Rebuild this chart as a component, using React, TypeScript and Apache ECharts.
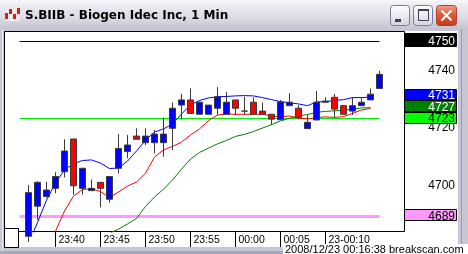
import React, { useEffect, useRef } from 'react';
import * as echarts from 'echarts';

// ---------- data ----------
const times = [
  '23:35', '23:36', '23:37', '23:38', '23:39', '23:40', '23:41', '23:42', '23:43', '23:44',
  '23:45', '23:46', '23:47', '23:48', '23:49', '23:50', '23:51', '23:52', '23:53', '23:54',
  '23:55', '23:56', '23:57', '23:58', '23:59', '00:00', '00:01', '00:02', '00:03', '00:04',
  '00:05', '00:06', '00:07', '00:08', '00:09', '00:10', '00:11', '00:12', '00:13', '00:14',
  '00:15', '00:16', '00:17', '00:18',
];
const candleStart = '23:37';

const opens = [
  4682.0, 4692.5, 4695.8, 4698.7, 4704.5, 4715.9, 4698.7, 4697.9, 4700.8, 4694.9,
  4705.7, 4711.5, 4716.9, 4714.6, 4714.6, 4714.6, 4719.6, 4727.7, 4729.5, 4724.5,
  4724.5, 4726.6, 4724.5, 4729.5, 4725.6, 4728.7, 4725.6, 4724.5, 4722.6, 4727.5,
  4726.6, 4719.5, 4722.5, 4728.7, 4730.4, 4727.5, 4725.6, 4727.5, 4729.5, 4733.5,
];
const closes = [
  4697.2, 4700.8, 4698.1, 4702.8, 4711.7, 4699.6, 4705.7, 4698.7, 4698.7, 4702.8,
  4712.6, 4713.8, 4715.8, 4716.9, 4717.6, 4717.6, 4726.6, 4729.5, 4724.8, 4728.7,
  4727.7, 4730.6, 4728.7, 4726.6, 4725.6, 4724.5, 4724.5, 4722.8, 4728.8, 4728.7,
  4723.4, 4721.7, 4728.7, 4729.1, 4726.3, 4724.5, 4727.5, 4728.7, 4731.5, 4738.4,
];
const lows = [
  4680.0, 4687.7, 4695.6, 4697.0, 4702.5, 4696.5, 4696.5, 4697.9, 4692.1, 4693.7,
  4703.9, 4709.2, 4715.8, 4713.8, 4710.9, 4709.7, 4712.0, 4722.7, 4724.8, 4724.5,
  4724.5, 4724.2, 4724.5, 4724.2, 4724.4, 4724.5, 4724.5, 4720.8, 4722.6, 4727.5,
  4722.7, 4719.5, 4722.5, 4728.7, 4723.4, 4724.5, 4724.2, 4727.5, 4729.5, 4733.5,
];
const highs = [
  4699.9, 4701.2, 4701.0, 4704.3, 4715.8, 4715.9, 4705.7, 4701.8, 4700.8, 4702.8,
  4717.6, 4717.3, 4719.6, 4719.6, 4719.0, 4723.4, 4728.6, 4731.6, 4733.5, 4728.9,
  4727.7, 4734.0, 4732.3, 4729.5, 4730.6, 4730.4, 4728.6, 4724.5, 4729.5, 4731.8,
  4727.7, 4724.2, 4732.6, 4730.4, 4731.6, 4727.5, 4730.4, 4730.4, 4733.5, 4739.6,
];

const maFast = [
  4679.5, 4686.8, 4694.6, 4700.6, 4705.1, 4707.3, 4708.4, 4708.6, 4707.5, 4705.6,
  4705.8, 4708.2, 4711.7, 4715.5, 4718.3, 4719.4, 4721.1, 4724.6, 4727.7, 4729.3,
  4730.2, 4730.6, 4730.7, 4730.9, 4731.0, 4730.9, 4730.3, 4729.6, 4728.9, 4728.5,
  4728.1, 4727.5, 4728.8, 4728.9, 4729.3, 4729.6, 4730.3, 4730.3, 4730.5, null,
];
const maMid = [
  null, null, 4677.2, 4683.8, 4690.8, 4696.0, 4698.3, 4698.6, 4697.6, 4695.5,
  4697.4, 4699.5, 4700.9, 4704.0, 4709.6, 4712.1, 4713.3, 4714.8, 4717.3, 4719.4,
  4722.3, 4724.2, 4724.6, 4724.5, 4724.5, 4724.5, 4724.5, 4723.9, 4723.6, 4723.9,
  4723.1, 4722.9, 4723.3, 4723.6, 4723.4, 4723.7, 4724.8, 4726.0, 4726.5, null,
];
const maSlow = [
  null, null, null, null, null, null, null, null, 4681.5, 4683.0,
  4684.5, 4686.3, 4688.2, 4692.4, 4695.7, 4698.4, 4701.6, 4705.4, 4708.9, 4711.2,
  4712.7, 4714.2, 4715.4, 4716.8, 4717.5, 4718.5, 4719.7, 4720.9, 4722.2, 4723.1,
  4723.9, 4724.4, 4725.2, 4725.5, 4725.7, 4725.9, 4726.3, 4726.7, 4726.8, null,
];

const tickTimes = ['23:40', '23:45', '23:50', '23:55', '00:00', '00:05', '00:10'];
const tickTexts = ['23:40', '23:45', '23:50', '23:55', '00:00', '00:05', '23-00:10'];
const yTickValues = [4700, 4720, 4740];

const refLineValues = [4750, 4723, 4689];
const refLineFrom = '23:36';
const refLineTo = '00:16';

const priceTags = [4750, 4731, 4727, 4723, 4689];

const titleText = 'S.BIIB - Biogen Idec Inc, 1 Min';
const stampText = '2008/12/23 00:16:38 breakscan.com';

// ---------- styles ----------
const FONT = '"Liberation Sans", Arial, sans-serif';
const refLineColors = ['#000000', '#00ee00', '#ff99ff'];
const refLineWidths = [1, 1, 3];
const tagFill = ['#000000', '#0000ff', '#008000', '#00ff00', '#ff99ff'];
const tagTextColor = ['#ffffff', '#ffffff', '#ffffff', '#000000', '#000000'];
const tagHeight = [13, 11, 11, 11, 11];

export default function App() {
  const ref = useRef<HTMLDivElement>(null);

  useEffect(() => {
    const el = ref.current;
    if (!el) return;
    const chart = echarts.init(el, null, { renderer: 'svg' });
    const offset = times.indexOf(candleStart);

    const candleData = times.map((_, i) => {
      const k = i - offset;
      if (k < 0 || k >= opens.length) return '-';
      return [opens[k], closes[k], lows[k], highs[k]];
    });
    const maData = (arr: (number | null)[]) =>
      times.map((_, i) => {
        const k = i - offset;
        if (k < 0 || k >= arr.length) return null;
        return arr[k];
      });

    const showTick = (_i: number, v: string) => tickTimes.indexOf(v) >= 0;

    const option: any = {
      animation: false,
      grid: { left: 6, top: 31, width: 396, height: 201, containLabel: false, outerBoundsMode: 'none' },
      xAxis: {
        type: 'category',
        data: times,
        boundaryGap: true,
        axisLine: { show: false },
        axisTick: { show: true, alignWithLabel: true, interval: showTick, length: 15, lineStyle: { color: '#000', width: 1 } },
        axisLabel: {
          interval: showTick,
          formatter: (v: string) => tickTexts[tickTimes.indexOf(v)],
          align: 'left',
          padding: [0, 0, 0, 3],
          margin: 1,
          fontSize: 10.5,
          fontFamily: FONT,
          color: '#000',
        },
        splitLine: { show: false },
      },
      yAxis: {
        type: 'value',
        position: 'right',
        min: 4683.5,
        max: 4753.5,
        axisLine: { show: false },
        axisTick: { show: false },
        splitLine: { show: false },
        axisLabel: {
          customValues: yTickValues,
          formatter: (v: number) => String(v),
          align: 'right',
          margin: 53,
          fontSize: 12,
          fontFamily: FONT,
          color: '#000',
          padding: [0, 0, 3, 0],
        },
      },
      series: [
        {
          type: 'candlestick',
          data: candleData,
          barWidth: 6,
          clip: true,
          z: 4,
          itemStyle: {
            color: '#0000ff',
            color0: '#ff0000',
            borderColor: '#3a3a3a',
            borderColor0: '#3a3a3a',
            borderColorDoji: '#3a3a3a',
            borderWidth: 1,
          },
          markLine: {
            silent: true,
            symbol: ['none', 'none'],
            label: { show: false },
            z: 1,
            data: refLineValues.map((v, k) => [
              { coord: [refLineFrom, v], lineStyle: { color: refLineColors[k], width: refLineWidths[k], type: 'solid' } },
              { coord: [refLineTo, v] },
            ]),
          },
        },
        { type: 'line', data: maData(maFast), showSymbol: false, symbol: 'none', clip: true, z: 3, lineStyle: { color: '#0000ff', width: 1 } },
        { type: 'line', data: maData(maMid), showSymbol: false, symbol: 'none', clip: true, z: 3, lineStyle: { color: '#ff0000', width: 1 } },
        { type: 'line', data: maData(maSlow), showSymbol: false, symbol: 'none', clip: true, z: 3, lineStyle: { color: '#008000', width: 1 } },
      ],
    };
    chart.setOption(option);

    const grad = (stops: [number, string][]) =>
      new echarts.graphic.LinearGradient(0, 0, 0, 1, stops.map(([offset, color]) => ({ offset, color })));

    const chrome: any[] = [
      { type: 'rect', z: -10, shape: { x: 0, y: 0, width: 468, height: 254 }, style: { fill: '#c6c6d4' } },
      { type: 'rect', z: -9, shape: { x: 0, y: 0, width: 468, height: 29 }, style: { fill: grad([[0, '#fbfbfd'], [0.15, '#ececf2'], [0.6, '#dcdce6'], [1, '#c4c4d2']]) } },
      { type: 'rect', z: -9, shape: { x: 2, y: 29, width: 1, height: 222 }, style: { fill: '#e8e8f0' } },
      { type: 'rect', z: -9, shape: { x: 461, y: 29, width: 1, height: 222 }, style: { fill: '#9a9aae' } },
      { type: 'rect', z: -9, shape: { x: 0, y: 251, width: 468, height: 3 }, style: { fill: '#a8a8bc' } },
      { type: 'rect', z: -8, shape: { x: 4.5, y: 31.5, width: 400, height: 200 }, style: { fill: '#ffffff', stroke: '#000000', lineWidth: 1 } },
      { type: 'rect', z: -8, shape: { x: 4, y: 232, width: 401, height: 15 }, style: { fill: '#ffffff' } },
      { type: 'rect', z: -8, shape: { x: 405, y: 31, width: 53, height: 217 }, style: { fill: '#ffffff' } },
      { type: 'rect', z: 8, shape: { x: 4.5, y: 228.5, width: 14, height: 19 }, style: { fill: '#ffffff', stroke: '#000000', lineWidth: 1 } },
      { type: 'rect', z: 8, shape: { x: 283, y: 244, width: 185, height: 10 }, style: { fill: '#ffffff' } },
      { type: 'text', z: 9, x: 285, y: 249, style: { text: stampText, fill: '#000', font: '11px ' + FONT, textAlign: 'left', textVerticalAlign: 'middle' } },
      // title
      { type: 'text', z: 9, x: 25, y: 15, style: { text: titleText, fill: '#000', font: 'bold 12px "DejaVu Sans", sans-serif', textAlign: 'left', textVerticalAlign: 'middle' } },
      // icon
      { type: 'rect', z: 9, shape: { x: 5, y: 8, width: 15, height: 13 }, style: { fill: '#f0e8ec' } },
      { type: 'rect', z: 9, shape: { x: 5, y: 13, width: 3, height: 6 }, style: { fill: '#d02020' } },
      { type: 'rect', z: 9, shape: { x: 9, y: 9, width: 3, height: 5 }, style: { fill: '#d02020' } },
      { type: 'rect', z: 9, shape: { x: 13, y: 14, width: 3, height: 5 }, style: { fill: '#d02020' } },
      { type: 'rect', z: 9, shape: { x: 17, y: 8, width: 3, height: 6 }, style: { fill: '#d02020' } },
      // minimize
      { type: 'rect', z: 9, shape: { x: 390.5, y: 5.5, width: 19, height: 20, r: 3 }, style: { fill: grad([[0, '#ffffff'], [1, '#d4d4e2']]), stroke: '#7c7c98', lineWidth: 1 } },
      { type: 'rect', z: 10, shape: { x: 395, y: 19, width: 6, height: 3 }, style: { fill: '#404058' } },
      // maximize
      { type: 'rect', z: 9, shape: { x: 413.5, y: 5.5, width: 19, height: 20, r: 3 }, style: { fill: grad([[0, '#ffffff'], [1, '#d4d4e2']]), stroke: '#7c7c98', lineWidth: 1 } },
      { type: 'rect', z: 10, shape: { x: 418.5, y: 9.5, width: 10, height: 11 }, style: { fill: 'none', stroke: '#404058', lineWidth: 1 } },
      { type: 'rect', z: 10, shape: { x: 418, y: 9, width: 11, height: 2 }, style: { fill: '#404058' } },
      // close
      { type: 'rect', z: 9, shape: { x: 436.5, y: 5.5, width: 20, height: 20, r: 3 }, style: { fill: grad([[0, '#f4a088'], [0.4, '#e46040'], [1, '#c83818']]), stroke: '#b04030', lineWidth: 1 } },
      { type: 'line', z: 10, shape: { x1: 441.5, y1: 10.5, x2: 451.5, y2: 20.5 }, style: { stroke: '#ffffff', lineWidth: 2 } },
      { type: 'line', z: 10, shape: { x1: 451.5, y1: 10.5, x2: 441.5, y2: 20.5 }, style: { stroke: '#ffffff', lineWidth: 2 } },
    ];

    const tags: any[] = [];
    priceTags.forEach((v, k) => {
      const py = (chart.convertToPixel({ yAxisIndex: 0 }, v) as number) - 1.5;
      const h = tagHeight[k];
      tags.push({ type: 'rect', z: 20, shape: { x: 404.5, y: Math.round(py - h / 2) + 0.5, width: 52, height: h }, style: { fill: tagFill[k], stroke: '#000', lineWidth: 1 } });
      tags.push({ type: 'text', z: 21, x: 455, y: Math.round(py) + 1, style: { text: String(v), fill: tagTextColor[k], font: '12px ' + FONT, lineHeight: 10, textAlign: 'right', textVerticalAlign: 'middle' } });
    });

    chart.setOption({ graphic: [...chrome, ...tags] });

    return () => chart.dispose();
  }, []);

  return <div ref={ref} style={{ position: 'fixed', left: 0, top: 0, width: 468, height: 254 }} />;
}
